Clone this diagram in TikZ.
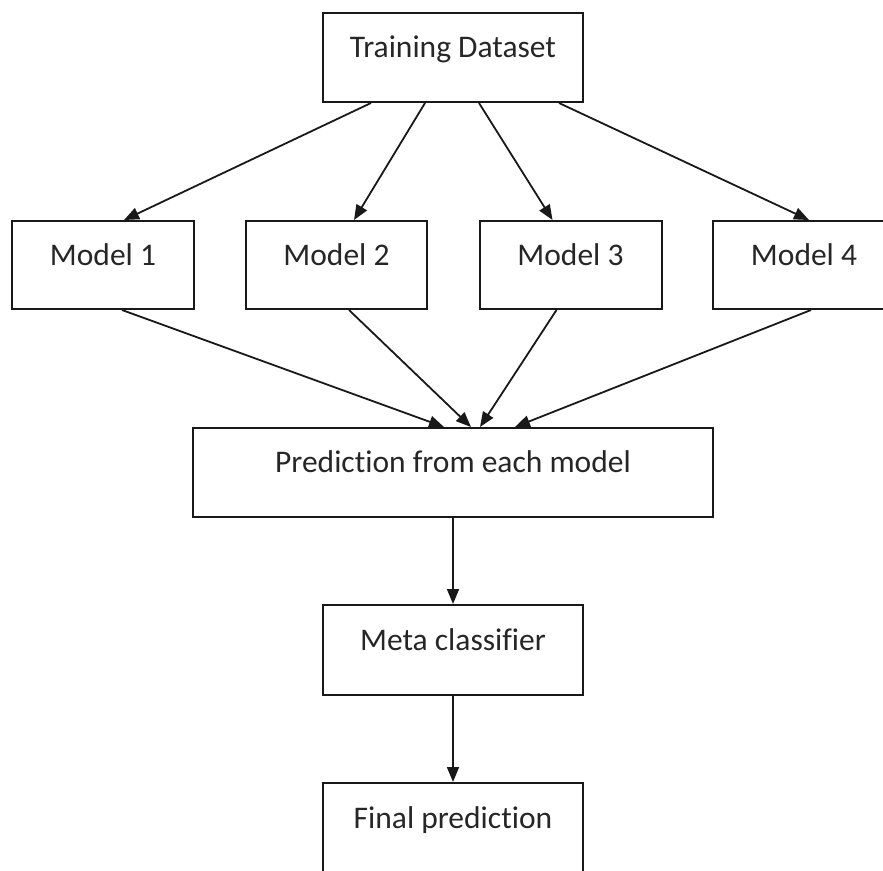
\documentclass[tikz,border=0pt]{standalone}
\usepackage{fontspec}
\setmainfont[Ligatures=NoCommon]{Carlito}
\usetikzlibrary{arrows.meta}
\begin{document}
\begin{tikzpicture}[x=1pt,y=-1pt,
  box/.style={draw=black!90, line width=2pt, rectangle, inner sep=0pt,
    text height=12pt, text depth=12pt, text=black!85,
    font=\fontsize{31.5}{36}\selectfont},
  conn/.style={draw=black!90, line width=1.8pt, -{Triangle[length=15pt,width=12pt]}}]
\useasboundingbox (0,0) rectangle (883,870);
\node[box, minimum width=260pt, minimum height=89pt] (td) at (453,57.5) {Training Dataset};
\node[box, minimum width=182pt, minimum height=88pt] (m1) at (103,265) {Model 1};
\node[box, minimum width=181pt, minimum height=88pt] (m2) at (336.5,265) {Model 2};
\node[box, minimum width=182pt, minimum height=88pt] (m3) at (570.5,265) {Model 3};
\node[box, minimum width=182pt, minimum height=88pt] (m4) at (804,265) {Model 4};
\node[box, minimum width=520pt, minimum height=89pt] (pr) at (453,472.5) {Prediction from each model};
\node[box, minimum width=260pt, minimum height=90pt] (mc) at (453,650) {Meta classifier};
\node[box, minimum width=260pt, minimum height=90pt] (fp) at (453,828) {Final prediction};
\draw[conn] ([xshift=49pt]td.south west) -- ([xshift=113pt]m1.north west);
\draw[conn] ([xshift=103pt]td.south west) -- ([xshift=109pt]m2.north west);
\draw[conn] ([xshift=157pt]td.south west) -- ([xshift=74pt]m3.north west);
\draw[conn] ([xshift=237pt]td.south west) -- ([xshift=97pt]m4.north west);
\draw[conn] ([xshift=111pt]m1.south west) -- ([xshift=252pt]pr.north west);
\draw[conn] ([xshift=104pt]m2.south west) -- ([xshift=279pt]pr.north west);
\draw[conn] ([xshift=78pt]m3.south west) -- ([xshift=288pt]pr.north west);
\draw[conn] ([xshift=99pt]m4.south west) -- ([xshift=323pt]pr.north west);
\draw[conn] (pr.south) -- (mc.north);
\draw[conn] (mc.south) -- (fp.north);
\end{tikzpicture}
\end{document}
